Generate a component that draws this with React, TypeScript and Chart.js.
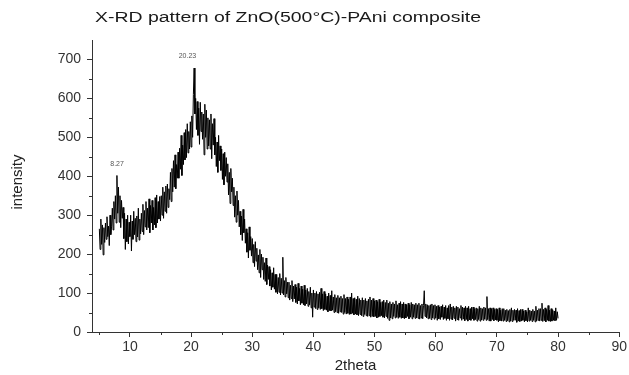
import React, { useEffect, useRef } from "react";
import { Chart, registerables } from "chart.js";

Chart.register(...registerables);

const TITLE = "X-RD pattern of ZnO(500°C)-PAni composite";
const X_LABEL = "2theta";
const Y_LABEL = "intensity";

const X_START = 5;
const X_STEP = 0.125;
// intensity samples every 0.125 deg from 5 to 80 (one row per degree)
const INTENSITY = [
  265, 212, 290, 225, 275, 198, 268, 230,
  280, 238, 296, 245, 272, 222, 300, 250,
  270, 318, 262, 335, 290, 350, 280, 402,
  305, 372, 282, 350, 268, 338, 292, 320,
  240, 305, 212, 290, 232, 300, 226, 282,
  245, 300, 208, 285, 238, 310, 250, 292,
  232, 298, 244, 318, 236, 290, 252, 305,
  258, 328, 250, 312, 270, 335, 262, 318,
  268, 342, 255, 325, 280, 338, 262, 320,
  275, 345, 268, 352, 280, 335, 290, 348,
  285, 350, 300, 372, 292, 360, 310, 375,
  305, 380, 320, 368, 340, 410, 335, 420,
  360, 440, 372, 455, 368, 430, 395, 462,
  395, 472, 418, 505, 402, 480, 430, 512,
  442, 520, 448, 535, 460, 515, 470, 540,
  475, 555, 500, 610, 678, 560, 600, 520,
  592, 505, 575, 482, 590, 515, 565, 495,
  560, 455, 585, 500, 570, 470, 550, 478,
  545, 470, 560, 445, 535, 480, 548, 455,
  500, 425, 488, 410, 505, 440, 478, 415,
  470, 392, 458, 378, 462, 400, 448, 385,
  432, 352, 410, 330, 420, 360, 395, 325,
  372, 295, 350, 282, 362, 300, 338, 270,
  310, 250, 298, 235, 315, 255, 290, 228,
  265, 205, 255, 190, 270, 210, 245, 195,
  240, 178, 225, 168, 232, 182, 215, 160,
  198, 152, 212, 140, 200, 160, 192, 135,
  178, 130, 190, 122, 172, 135, 168, 118,
  160, 108, 152, 115, 165, 110, 148, 102,
  148, 98, 140, 102, 150, 95, 138, 100,
  192, 95, 132, 90, 140, 98, 128, 88,
  128, 82, 120, 86, 132, 78, 118, 85,
  122, 76, 115, 72, 125, 80, 112, 70,
  118, 74, 110, 70, 120, 68, 108, 72,
  112, 66, 104, 70, 115, 62, 100, 38,
  108, 64, 100, 60, 104, 58, 98, 62,
  102, 58, 112, 60, 98, 55, 104, 58,
  98, 56, 92, 52, 100, 55, 94, 54,
  106, 56, 90, 50, 96, 52, 88, 50,
  94, 48, 88, 52, 92, 50, 86, 46,
  96, 50, 86, 46, 90, 48, 84, 45,
  90, 46, 100, 48, 86, 44, 88, 46,
  84, 44, 92, 42, 86, 45, 82, 42,
  88, 40, 82, 45, 86, 42, 80, 40,
  84, 42, 90, 38, 82, 40, 86, 39,
  80, 40, 82, 36, 78, 38, 84, 40,
  76, 42, 78, 38, 82, 36, 76, 40,
  82, 35, 74, 30, 78, 36, 72, 34,
  76, 40, 72, 36, 80, 38, 70, 35,
  74, 38, 78, 35, 72, 36, 76, 34,
  72, 36, 70, 40, 74, 34, 70, 38,
  76, 34, 72, 38, 70, 35, 74, 36,
  70, 35, 74, 33, 68, 36, 72, 34,
  68, 106, 40, 72, 36, 70, 34, 68,
  35, 70, 32, 72, 36, 68, 33, 70,
  36, 66, 30, 68, 34, 64, 32, 66,
  38, 70, 32, 64, 35, 68, 30, 62,
  34, 68, 30, 72, 33, 64, 31, 66,
  35, 62, 28, 66, 32, 64, 30, 60,
  36, 68, 30, 64, 33, 62, 29, 66,
  32, 62, 28, 66, 31, 60, 30, 64,
  34, 64, 30, 60, 32, 62, 28, 60,
  32, 66, 28, 62, 31, 60, 30, 64,
  33, 62, 30, 91, 32, 60, 28, 62,
  28, 60, 32, 62, 29, 58, 31, 60,
  30, 58, 26, 62, 29, 56, 28, 60,
  28, 60, 30, 56, 27, 58, 29, 55,
  26, 58, 28, 62, 27, 56, 30, 58,
  30, 56, 25, 60, 28, 55, 27, 58,
  28, 58, 30, 54, 26, 56, 29, 52,
  26, 62, 28, 56, 30, 54, 27, 58,
  30, 54, 26, 66, 28, 56, 30, 60,
  28, 60, 30, 74, 27, 58, 29, 62,
  26, 58, 30, 68, 28, 56, 27, 60,
  28, 57, 30, 54, 29, 62, 30, 52,
  35,
];

const X_TICKS = [10, 20, 30, 40, 50, 60, 70, 80, 90];
const X_MINOR = [5, 15, 25, 35, 45, 55, 65, 75, 85];
const Y_TICKS = [0, 100, 200, 300, 400, 500, 600, 700];
const Y_MINOR = [50, 150, 250, 350, 450, 550, 650];

const PEAK_LABELS = ["8.27", "20.23"];
const PEAK_X = [7.9, 19.4];
const PEAK_Y = [432, 710];

const FONT = '"Liberation Sans", Arial, sans-serif';

const decorPlugin = {
  id: "decor",
  afterDraw(chart: any) {
    const ctx = chart.ctx;
    const xs = chart.scales.x;
    const ys = chart.scales.y;
    const area = chart.chartArea;
    ctx.save();
    // minor ticks
    ctx.strokeStyle = "#333";
    ctx.lineWidth = 1;
    ctx.beginPath();
    X_MINOR.forEach((v) => {
      const px = Math.round(xs.getPixelForValue(v)) + 0.5;
      ctx.moveTo(px, area.bottom);
      ctx.lineTo(px, area.bottom + 3);
    });
    Y_MINOR.forEach((v) => {
      const py = Math.round(ys.getPixelForValue(v)) + 0.5;
      ctx.moveTo(area.left - 3, py);
      ctx.lineTo(area.left, py);
    });
    ctx.stroke();

    // title
    ctx.fillStyle = "#1a1a1a";
    ctx.font = `14px ${FONT}`;
    ctx.textAlign = "left";
    ctx.textBaseline = "alphabetic";
    ctx.save();
    ctx.translate(95, 22);
    ctx.scale(1.39, 1);
    ctx.fillText(TITLE, 0, 0);
    ctx.restore();

    // axis titles
    ctx.fillStyle = "#222";
    ctx.font = `15px ${FONT}`;
    ctx.textAlign = "center";
    ctx.textBaseline = "middle";
    ctx.fillText(X_LABEL, (area.left + area.right) / 2, 366);
    ctx.save();
    ctx.translate(18, (area.top + area.bottom) / 2 - 4);
    ctx.rotate(-Math.PI / 2);
    ctx.fillText(Y_LABEL, 0, 0);
    ctx.restore();

    // peak labels
    ctx.fillStyle = "#555";
    ctx.font = `7px ${FONT}`;
    PEAK_LABELS.forEach((t, i) => {
      ctx.fillText(t, xs.getPixelForValue(PEAK_X[i]), ys.getPixelForValue(PEAK_Y[i]));
    });
    ctx.restore();
  },
};

export default function App() {
  const ref = useRef<HTMLCanvasElement | null>(null);
  useEffect(() => {
    document.body.style.margin = "0";
    const canvas = ref.current;
    if (!canvas) return;
    const points = INTENSITY.map((y, i) => ({ x: X_START + i * X_STEP, y }));
    const tickFont = { family: FONT, size: 14 };
    const chart = new Chart(canvas, {
      type: "line",
      data: {
        datasets: [
          {
            data: points,
            borderColor: "#000",
            borderWidth: 1,
            pointRadius: 0,
            tension: 0,
            fill: false,
          },
        ],
      },
      options: {
        animation: false,
        responsive: false,
        devicePixelRatio: 1,
        events: [],
        layout: { padding: { top: 40, right: 9, left: 0, bottom: 0 } },
        plugins: {
          legend: { display: false },
          tooltip: { enabled: false },
          title: { display: false },
        },
        scales: {
          x: {
            type: "linear",
            min: 3.8,
            max: 90,
            afterBuildTicks: (s: any) => {
              s.ticks = X_TICKS.map((v) => ({ value: v }));
            },
            afterFit: (s: any) => {
              s.height = 43;
            },
            grid: {
              display: true,
              drawOnChartArea: false,
              drawTicks: true,
              tickLength: 5,
              color: "#333",
              tickColor: "#333",
            },
            border: { display: true, color: "#333", width: 1 },
            ticks: {
              color: "#333",
              font: tickFont,
              padding: 2,
              maxRotation: 0,
              autoSkip: false,
            },
          },
          y: {
            type: "linear",
            min: 0,
            max: 750,
            afterBuildTicks: (s: any) => {
              s.ticks = Y_TICKS.map((v) => ({ value: v }));
            },
            afterFit: (s: any) => {
              s.width = 92;
            },
            grid: {
              display: true,
              drawOnChartArea: false,
              drawTicks: true,
              tickLength: 5,
              color: "#333",
              tickColor: "#333",
            },
            border: { display: true, color: "#333", width: 1 },
            ticks: {
              color: "#333",
              font: tickFont,
              padding: 6,
              autoSkip: false,
            },
          },
        },
      },
      plugins: [decorPlugin],
    } as any);
    return () => chart.destroy();
  }, []);
  return (
    <div style={{ width: 629, height: 375 }}>
      <canvas ref={ref} width={629} height={375} style={{ display: "block" }} />
    </div>
  );
}
